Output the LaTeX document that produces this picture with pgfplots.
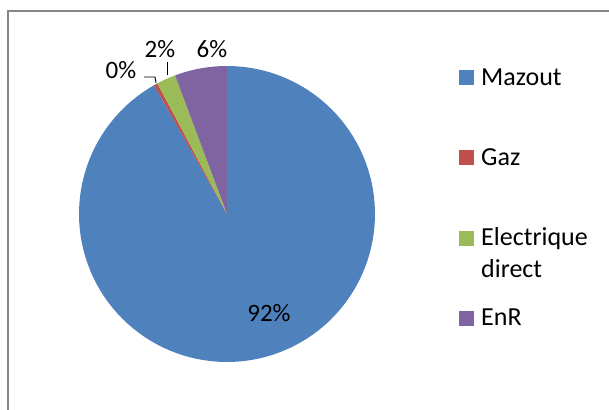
\documentclass[border=0pt]{standalone}
\usepackage{pgfplots}
\pgfplotsset{compat=1.18}
\usepackage{fontspec}
\setmainfont{Carlito}
\definecolor{cMaz}{HTML}{4F81BD}
\definecolor{cGaz}{HTML}{C0504D}
\definecolor{cEle}{HTML}{9BBB59}
\definecolor{cEnR}{HTML}{8064A2}
\definecolor{frame}{RGB}{134,134,134}
% shares in percent
\def\vMaz{91.8}
\def\vGaz{0.4}
\def\vEle{2.1}
\def\vEnR{5.7}
\pgfmathsetmacro\aA{3.6*\vMaz}
\pgfmathsetmacro\aB{\aA+3.6*\vGaz}
\pgfmathsetmacro\aC{\aB+3.6*\vEle}
\pgfmathsetmacro\aD{\aC+3.6*\vEnR}
\def\cx{227}\def\cy{196}\def\R{148}
\newcommand\lab{\fontsize{25bp}{29bp}\selectfont}
\newcommand\leg{\fontsize{26bp}{31bp}\selectfont}
\begin{document}
\begin{tikzpicture}
\path[use as bounding box] (0,0) rectangle (609bp,410bp);
\begin{axis}[scale only axis, width=609bp, height=410bp,
  xmin=0, xmax=609, ymin=0, ymax=410, hide axis, clip=false]
\addplot[fill=cMaz, draw=none, domain=0:\aA, samples=120, variable=\t]
  ({\cx+\R*sin(\t)},{\cy+\R*cos(\t)}) -- (axis cs:\cx,\cy) -- cycle;
\addplot[fill=cGaz, draw=none, domain=\aA:\aB, samples=5, variable=\t]
  ({\cx+\R*sin(\t)},{\cy+\R*cos(\t)}) -- (axis cs:\cx,\cy) -- cycle;
\addplot[fill=cEle, draw=none, domain=\aB:\aC, samples=10, variable=\t]
  ({\cx+\R*sin(\t)},{\cy+\R*cos(\t)}) -- (axis cs:\cx,\cy) -- cycle;
\addplot[fill=cEnR, draw=none, domain=\aC:\aD, samples=20, variable=\t]
  ({\cx+\R*sin(\t)},{\cy+\R*cos(\t)}) -- (axis cs:\cx,\cy) -- cycle;
% frame
\draw[frame, line width=2bp] (axis cs:8,0) -- (axis cs:8,399) -- (axis cs:609,399);
% data labels
\node[font=\lab] at (axis cs:269,97) {92\%};
\node[font=\lab] at (axis cs:121,340) {0\%};
\node[font=\lab] at (axis cs:160,361) {2\%};
\node[font=\lab] at (axis cs:212,361) {6\%};
\draw[black, line width=0.9bp] (axis cs:144,333) -- (axis cs:155,333) -- (axis cs:156,327);
\draw[black, line width=0.9bp] (axis cs:167,348) -- (axis cs:167,335);
% legend
\fill[cMaz] (axis cs:459,325) rectangle (axis cs:474,340);
\node[font=\leg, anchor=base west, inner sep=0pt] at (axis cs:481,325) {Mazout};
\fill[cGaz] (axis cs:459,245) rectangle (axis cs:474,260);
\node[font=\leg, anchor=base west, inner sep=0pt] at (axis cs:481,245) {Gaz};
\fill[cEle] (axis cs:459,164) rectangle (axis cs:474,179);
\node[font=\leg, anchor=base west, inner sep=0pt] at (axis cs:481,164.3) {Electrique};
\node[font=\leg, anchor=base west, inner sep=0pt] at (axis cs:481,133) {direct};
\fill[cEnR] (axis cs:459,84) rectangle (axis cs:474,99);
\node[font=\leg, anchor=base west, inner sep=0pt] at (axis cs:481,84.3) {EnR};
\end{axis}
\end{tikzpicture}
\end{document}
